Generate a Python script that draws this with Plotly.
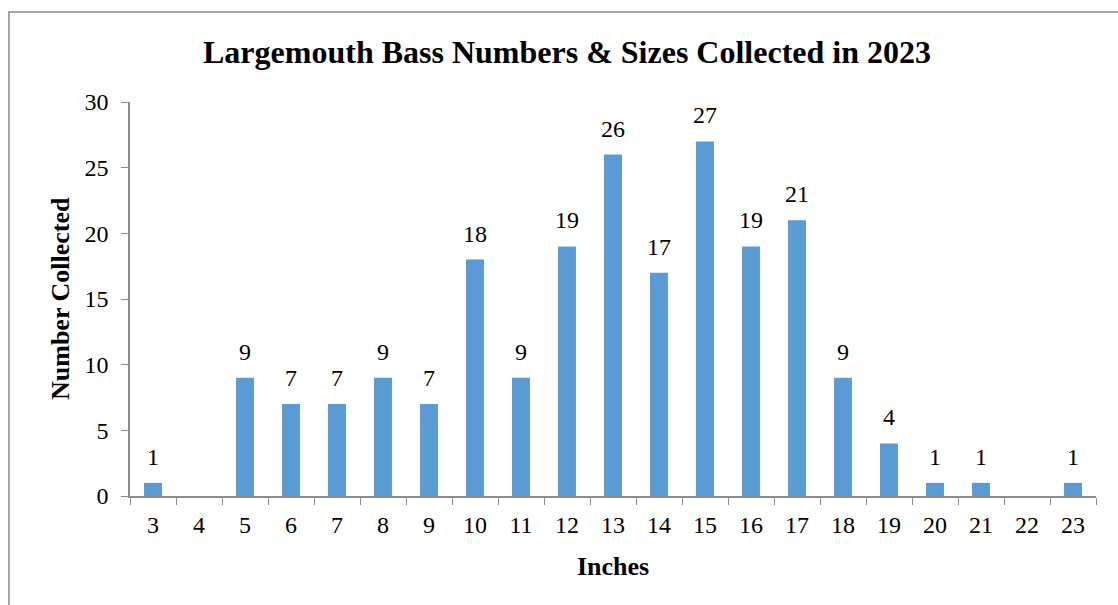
import plotly.graph_objects as go

inches = ['3', '4', '5', '6', '7', '8', '9', '10', '11', '12', '13',
          '14', '15', '16', '17', '18', '19', '20', '21', '22', '23']
counts = [1, 0, 9, 7, 7, 9, 7, 18, 9, 19, 26, 17, 27, 19, 21, 9, 4, 1, 1, 0, 1]

W, H = 1118, 605
L, R, T, B = 130, 22, 102, 109
pw, ph = W - L - R, H - T - B

fnt = 'Liberation Serif, Times New Roman, serif'
axcol = '#8c8c8c'

fig = go.Figure(go.Bar(
    x=inches, y=counts,
    marker=dict(color='#5b9bd5', line=dict(width=0)),
    width=0.39,
))

# data labels above the bars (zero bars have no label);
# category axis positions are given by index
for i, c in enumerate(counts):
    if c == 0:
        continue
    fig.add_annotation(x=i, y=c, text=str(c), showarrow=False,
                       yanchor='middle', yshift=26,
                       font=dict(family=fnt, size=24, color='black'))

fig.update_layout(
    width=W, height=H,
    margin=dict(l=L, r=R, t=T, b=B, autoexpand=False),
    plot_bgcolor='white', paper_bgcolor='white',
    font=dict(family=fnt, color='black'),
    showlegend=False,
    title=dict(text='<b>Largemouth Bass Numbers & Sizes Collected in 2023</b>',
               font=dict(family=fnt, size=32, color='black'),
               x=567 / W, xanchor='center', y=1 - 52 / H, yanchor='middle'),
)

fig.update_xaxes(
    type='category', range=[-0.5, len(inches) - 0.5],
    tickson='boundaries', ticks='outside', ticklen=7,
    tickcolor=axcol, showline=True, linecolor=axcol, linewidth=1.5,
    tickfont=dict(family=fnt, size=24), showgrid=False, automargin=False,
    ticklabelstandoff=6,
)
fig.update_yaxes(
    range=[0, 30], dtick=5, ticks='outside', ticklen=7, tickcolor=axcol,
    showline=True, linecolor=axcol, linewidth=1.5, showgrid=False,
    zeroline=False, tickfont=dict(family=fnt, size=24), automargin=False,
    ticklabelstandoff=8,
)

# axis titles
fig.add_annotation(text='<b>Inches</b>', xref='paper', yref='paper',
                   x=0.5, y=(H - B - 566) / ph, showarrow=False,
                   font=dict(family=fnt, size=26), yanchor='middle')
fig.add_annotation(text='<b>Number Collected</b>', xref='paper', yref='paper',
                   x=(60 - L) / pw, y=(H - B - 299) / ph, showarrow=False,
                   textangle=-90, font=dict(family=fnt, size=26),
                   xanchor='center', yanchor='middle')

# outer chart frame (cropped at right and bottom in the reference)
fig.add_shape(type='rect', xref='paper', yref='paper',
              x0=(9 - L) / pw, x1=(W + 5 - L) / pw,
              y0=(H - B - (H + 10)) / ph, y1=(H - B - 12) / ph,
              line=dict(color='#a6a6a6', width=2), layer='below')

fig.write_html('out.html', config={'displayModeBar': False},
               post_script="document.body.style.margin='0';")
